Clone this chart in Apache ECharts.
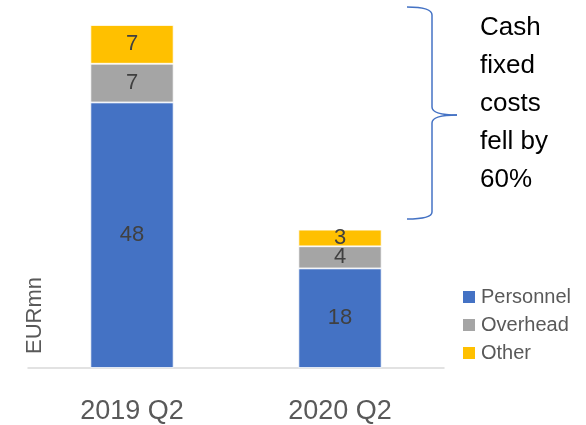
<!DOCTYPE html>
<html><head><meta charset="utf-8">
<script src="https://cdn.jsdelivr.net/npm/echarts@6/dist/echarts.min.js"></script>
<style>html,body{margin:0;padding:0;background:#fff}#c{width:586px;height:425px}</style>
</head><body><div id="c"></div>
<script>
var categories = ['2019 Q2', '2020 Q2'];
var personnel = [48, 18];
var overhead = [7, 4];
var other = [7, 3];
var seriesNames = ['Personnel', 'Overhead', 'Other'];
var noteLines = ['Cash', 'fixed', 'costs', 'fell by', '60%'];

var FONT = '"Liberation Sans", Arial, sans-serif';
var chart = echarts.init(document.getElementById('c'), null, {renderer: 'canvas'});
function mk(name, data, color) {
  return {
    name: name, type: 'bar', stack: 'total', data: data, barWidth: '40%',
    itemStyle: {color: color, borderColor: '#fff', borderWidth: 0.8},
    label: {show: true, position: 'inside', fontSize: 22, color: '#404040', fontFamily: FONT}
  };
}
var braceStyle = {stroke: '#4472C4', lineWidth: 1.5, fill: null};
function bz(x1, y1, cx, cy, x2, y2) {
  return {type: 'bezierCurve', shape: {x1: x1, y1: y1, cpx1: cx, cpy1: cy, x2: x2, y2: y2}, style: braceStyle};
}
function ln(x1, y1, x2, y2) {
  return {type: 'line', shape: {x1: x1, y1: y1, x2: x2, y2: y2}, style: braceStyle};
}
chart.setOption({
  animation: false,
  grid: {left: 28, right: 142, top: 25, bottom: 57},
  xAxis: {
    type: 'category', data: categories,
    axisLine: {lineStyle: {color: '#D9D9D9', width: 1.5}},
    axisTick: {show: false},
    axisLabel: {fontSize: 27, color: '#595959', fontFamily: FONT, margin: 30}
  },
  yAxis: {type: 'value', min: 0, max: 62, show: false},
  legend: {
    orient: 'vertical', left: 456, top: 282, itemWidth: 14, itemHeight: 14, itemGap: 8,
    icon: 'rect', data: seriesNames,
    textStyle: {fontSize: 20, color: '#595959', fontFamily: FONT}
  },
  series: [mk(seriesNames[0], personnel, '#4472C4'), mk(seriesNames[1], overhead, '#A5A5A5'), mk(seriesNames[2], other, '#FFC000')],
  graphic: [
    {type: 'text', x: 24, y: 354, rotation: Math.PI / 2,
     style: {text: 'EURmn', fill: '#595959', font: '22px ' + FONT}},
    bz(407, 7, 432, 7, 432, 15),
    ln(432, 15, 432, 107),
    bz(432, 107, 432, 115, 457, 115),
    bz(457, 115, 432, 115, 432, 123),
    ln(432, 123, 432, 212),
    bz(432, 212, 432, 219, 407, 219),
    {type: 'text', left: 480, top: 9,
     style: {text: noteLines.join('\n'), font: '26px ' + FONT, fill: '#000', lineHeight: 38}}
  ]
});
</script></body></html>
